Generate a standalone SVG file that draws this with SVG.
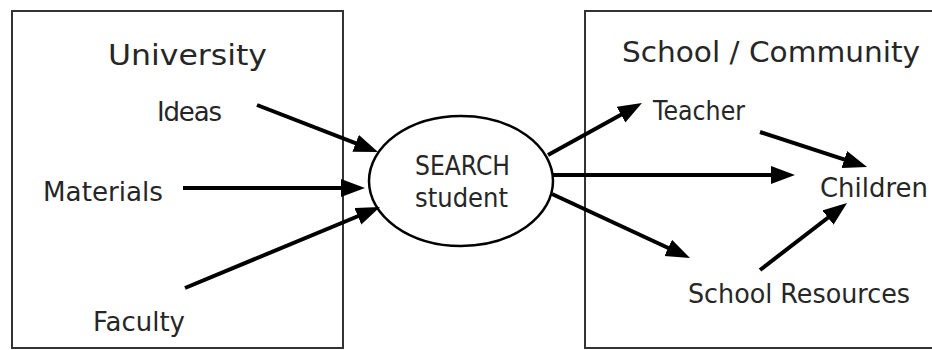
<svg xmlns="http://www.w3.org/2000/svg" width="932" height="350" viewBox="0 0 932 350">
<style>
.box{fill:none;stroke:#333;stroke-width:2}
.t{font-family:"DejaVu Sans","Liberation Sans",sans-serif;fill:#262626}
.title{font-size:29px}
.lbl{font-size:26px}
.c{stroke:#000;stroke-width:4;fill:none;marker-end:url(#ah)}
</style>
<defs>
<marker id="ah" markerUnits="userSpaceOnUse" markerWidth="28" markerHeight="20" refX="15" refY="9" orient="auto">
<path d="M0,0 L24,9 L0,18 z" fill="#000"/>
</marker>
</defs>
<rect width="932" height="350" fill="#fff"/>
<g id="university">
<rect class="box" x="12" y="11" width="331" height="337"/>
<text class="t title" x="108" y="65" textLength="159" lengthAdjust="spacingAndGlyphs">University</text>
</g>
<g id="school-community">
<rect class="box" x="585" y="11" width="360" height="337"/>
<text class="t title" x="622" y="62" textLength="298" lengthAdjust="spacingAndGlyphs">School / Community</text>
</g>
<g id="ideas"><text class="t lbl" x="157" y="121" textLength="65">Ideas</text></g>
<g id="materials"><text class="t lbl" x="43" y="201" textLength="120" lengthAdjust="spacingAndGlyphs">Materials</text></g>
<g id="faculty"><text class="t lbl" x="93" y="331" textLength="92" lengthAdjust="spacingAndGlyphs">Faculty</text></g>
<g id="search-student">
<ellipse cx="461" cy="181" rx="92" ry="65" fill="#fff" stroke="#000" stroke-width="2.5"/>
<text class="t lbl" x="415" y="175" textLength="95" lengthAdjust="spacingAndGlyphs">SEARCH</text>
<text class="t lbl" x="415" y="207" textLength="93" lengthAdjust="spacingAndGlyphs">student</text>
</g>
<g id="teacher"><text class="t lbl" x="653" y="120" textLength="92" lengthAdjust="spacingAndGlyphs">Teacher</text></g>
<g id="children"><text class="t lbl" x="820" y="197" textLength="108" lengthAdjust="spacingAndGlyphs">Children</text></g>
<g id="school-resources"><text class="t lbl" x="688" y="303" textLength="222" lengthAdjust="spacingAndGlyphs">School Resources</text></g>
<g id="connectors">
<line class="c" x1="257" y1="105" x2="369.6" y2="148.7"/>
<line class="c" x1="183" y1="188" x2="356" y2="188"/>
<line class="c" x1="185" y1="288" x2="371.7" y2="210.5"/>
<line class="c" x1="548" y1="155" x2="634.1" y2="107.4"/>
<line class="c" x1="553" y1="175" x2="786" y2="175"/>
<line class="c" x1="552" y1="194" x2="681.8" y2="254.2"/>
<line class="c" x1="760" y1="132" x2="858.5" y2="164.2"/>
<line class="c" x1="760" y1="270" x2="839.9" y2="208.5"/>
</g>
</svg>
